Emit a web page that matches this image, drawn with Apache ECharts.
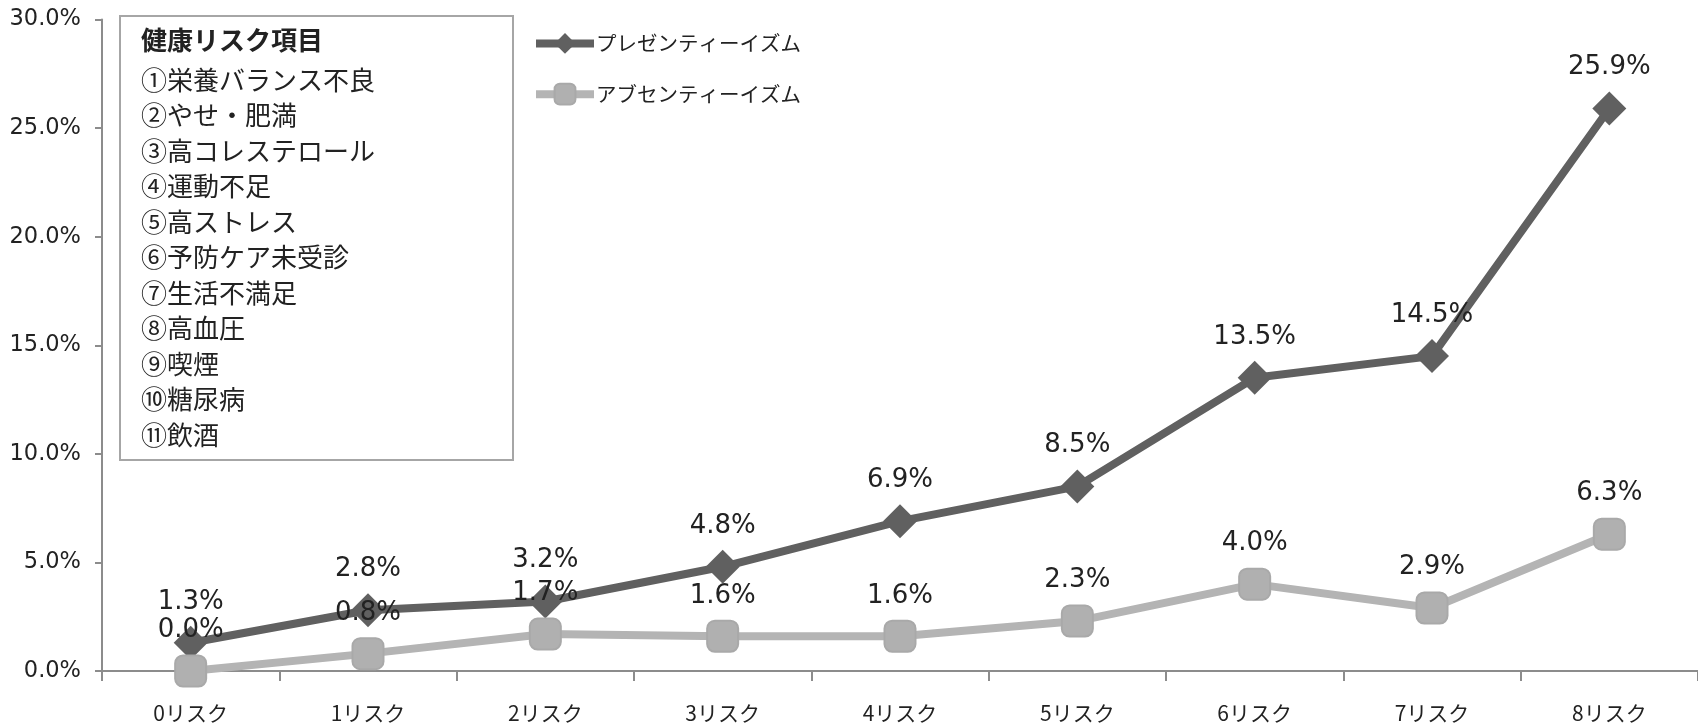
<!DOCTYPE html>
<html><head><meta charset="utf-8">
<script src="https://cdn.jsdelivr.net/npm/echarts@6/dist/echarts.min.js"></script>
<style>html,body{margin:0;padding:0;background:#fff}#c{width:1698px;height:724px}</style>
</head><body><div id="c"></div>
<script>
const categories = ['0リスク','1リスク','2リスク','3リスク','4リスク','5リスク','6リスク','7リスク','8リスク'];
const presenteeism = [1.3, 2.8, 3.2, 4.8, 6.9, 8.5, 13.5, 14.5, 25.9];
const absenteeism = [0.0, 0.8, 1.7, 1.6, 1.6, 2.3, 4.0, 2.9, 6.3];
const seriesNames = ['プレゼンティーイズム','アブセンティーイズム'];
const boxTitle = '健康リスク項目';
const boxItems = ['①栄養バランス不良','②やせ・肥満','③高コレステロール','④運動不足','⑤高ストレス','⑥予防ケア未受診','⑦生活不満足','⑧高血圧','⑨喫煙','⑩糖尿病','⑪飲酒'];

const chart = echarts.init(document.getElementById('c'));
const numFont = 'DejaVu Sans';
const jpFont = '"Noto Sans CJK JP", sans-serif';
const lbl = {show:true, position:'top', distance:11, fontFamily:numFont, fontSize:26, color:'#222',
  formatter: p => p.value.toFixed(1) + '%'};
chart.setOption({
  animation:false,
  grid:{left:102, right:0, top:19.5, bottom:53, containLabel:false},
  legend:{orient:'vertical', left:527, top:28, itemWidth:58, itemHeight:26, itemGap:29,
    textStyle:{fontFamily:jpFont, fontSize:20.5, color:'#222', padding:[0,0,0,-3]},
    data:[
      {name:seriesNames[0], itemStyle:{color:'#606060'}, lineStyle:{color:'#606060', width:8}},
      {name:seriesNames[1], itemStyle:{color:'#b0b0b0'}, lineStyle:{color:'#b4b4b4', width:8}}
    ]},
  xAxis:{type:'category', data:categories, boundaryGap:true,
    axisLine:{lineStyle:{color:'#8c8c8c', width:2}},
    axisTick:{show:true, length:10, lineStyle:{color:'#8c8c8c', width:2}},
    axisLabel:{margin:32, fontFamily:jpFont, fontSize:21, color:'#222'}},
  yAxis:{type:'value', min:0, max:30, interval:5,
    axisLine:{show:true, lineStyle:{color:'#8c8c8c', width:2}},
    axisTick:{show:true, length:7, lineStyle:{color:'#8c8c8c', width:2}},
    splitLine:{show:false},
    axisLabel:{margin:21, fontFamily:numFont, fontSize:22.5, color:'#222', formatter:v=>v.toFixed(1)+'%'}},
  graphic:[
    {type:'rect', left:119, top:15, shape:{width:393, height:444}, style:{fill:'#fff', stroke:'#a6a6a6', lineWidth:2}, z:0},
    {type:'text', left:141, top:27, style:{text:boxTitle, font:'bold 26px "Noto Sans CJK JP"', fill:'#222'}, z:1},
    {type:'text', left:141, top:62, style:{text:boxItems.join('\n'), font:'26px "Noto Sans CJK JP"', lineHeight:35.5, fill:'#222'}, z:1}
  ],
  series:[
    {name:seriesNames[0], type:'line', data:presenteeism, symbol:'diamond', symbolSize:34,
      lineStyle:{color:'#606060', width:8}, itemStyle:{color:'#606060'}, label:lbl, z:2},
    {name:seriesNames[1], type:'line', data:absenteeism, symbol:'roundRect', symbolSize:31,
      lineStyle:{color:'#b4b4b4', width:8}, itemStyle:{color:'#b0b0b0', borderColor:'#a9a9a9', borderWidth:2}, label:lbl, z:3}
  ]
});
</script></body></html>
